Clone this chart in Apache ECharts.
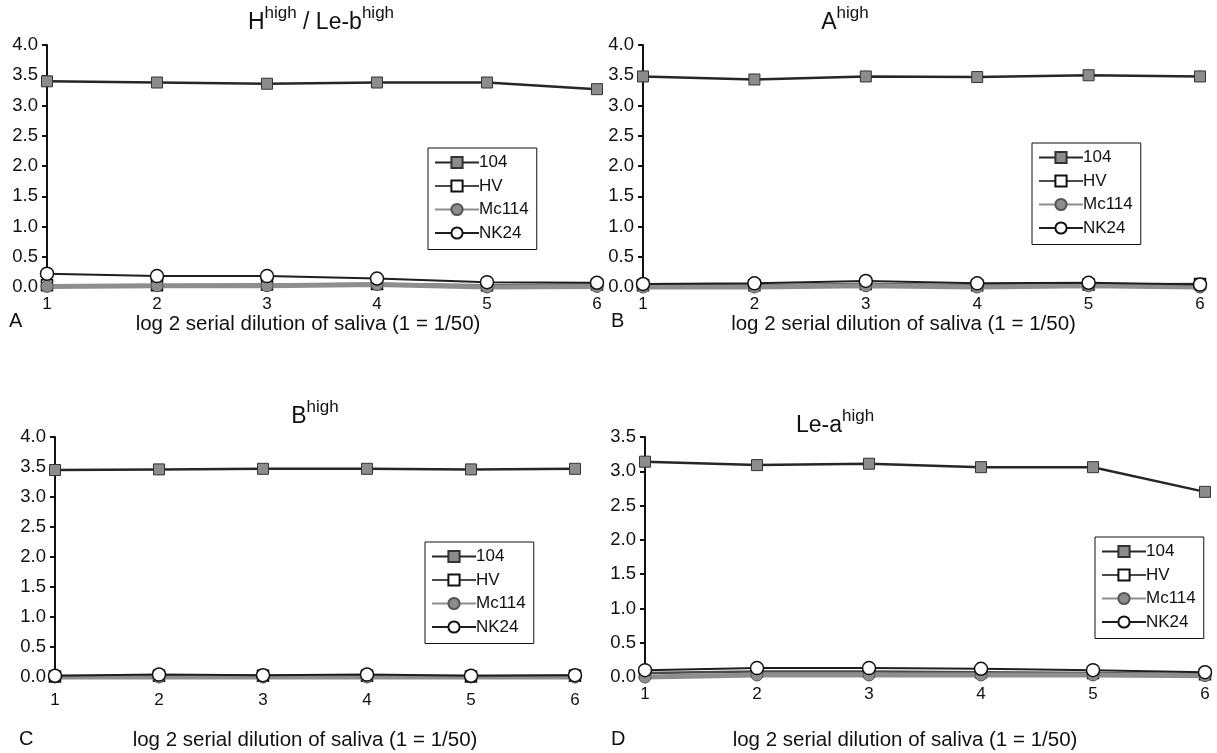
<!DOCTYPE html>
<html>
<head>
<meta charset="utf-8">
<script src="https://cdn.jsdelivr.net/npm/echarts@6/dist/echarts.min.js"></script>
<style>html,body{margin:0;padding:0;background:#fff}#c{width:1217px;height:753px}</style>
</head>
<body>
<div id="c"></div>
<script>
// ---- data ----
const xValues = [1, 2, 3, 4, 5, 6];
const seriesNames = ['104', 'HV', 'Mc114', 'NK24'];
const panelTitles = [['H', 'high', ' / Le-b', 'high'], ['A', 'high'], ['B', 'high'], ['Le-a', 'high']];
const panelLetters = ['A', 'B', 'C', 'D'];
const xAxisTitle = 'log 2 serial dilution of saliva (1 = 1/50)';
const yMaxes = [4.0, 4.0, 4.0, 3.5];

// Panel A: H(high) / Le-b(high)
const a104   = [3.40, 3.38, 3.36, 3.38, 3.38, 3.27];
const aHV    = [0.03, 0.03, 0.04, 0.05, 0.03, 0.04];
const aMc114 = [0.01, 0.02, 0.02, 0.04, 0.00, 0.01];
const aNK24  = [0.22, 0.18, 0.18, 0.14, 0.08, 0.07];
// Panel B: A(high)
const b104   = [3.48, 3.43, 3.48, 3.47, 3.50, 3.48];
const bHV    = [0.03, 0.03, 0.05, 0.03, 0.04, 0.05];
const bMc114 = [0.00, 0.00, 0.02, 0.00, 0.02, 0.00];
const bNK24  = [0.05, 0.06, 0.10, 0.06, 0.07, 0.04];
// Panel C: B(high)
const c104   = [3.45, 3.46, 3.47, 3.47, 3.46, 3.47];
const cHV    = [0.01, 0.02, 0.02, 0.02, 0.01, 0.02];
const cMc114 = [0.00, 0.00, 0.00, 0.00, 0.00, 0.00];
const cNK24  = [0.02, 0.04, 0.03, 0.04, 0.02, 0.03];
// Panel D: Le-a(high)
const d104   = [3.14, 3.09, 3.11, 3.06, 3.06, 2.70];
const dHV    = [0.06, 0.08, 0.08, 0.07, 0.06, 0.04];
const dMc114 = [0.00, 0.03, 0.03, 0.03, 0.03, 0.02];
const dNK24  = [0.10, 0.13, 0.13, 0.12, 0.10, 0.07];

const panelData = [
  [a104, aHV, aMc114, aNK24],
  [b104, bHV, bMc114, bNK24],
  [c104, cHV, cMc114, cNK24],
  [d104, dHV, dMc114, dNK24]
];

// ---- layout / style ----
const FONT = 'Liberation Sans, Arial, Helvetica, sans-serif';
const grids = [
  {left: 47,  top: 45,  width: 550, height: 242},
  {left: 643, top: 45,  width: 557, height: 242},
  {left: 55,  top: 437, width: 520, height: 240},
  {left: 645, top: 437, width: 560, height: 240}
];
const legendPos = [
  {left: 428, top: 148},
  {left: 1032, top: 143},
  {left: 425, top: 542},
  {left: 1095, top: 537}
];
const titlePos = [
  {x: 316, y: 0}, {x: 840, y: 0}, {x: 310, y: 394}, {x: 830, y: 403}
];
const labelMargins = [9, 9, 15, 9];
const nameGaps = [26, 26, 53, 53];
const nameShift = [28, 36, 20, 40];
const letterPos = [[9, 311], [611, 311], [19, 729], [611, 729]];

const styles = [
  {symbol: 'rect',   size: 11, fill: '#8c8c8c', border: '#333', bw: 1,   line: '#262626', lw: 2.5},
  {symbol: 'rect',   size: 11, fill: '#ffffff', border: '#111', bw: 1.5, line: '#4a4a4a', lw: 2.5},
  {symbol: 'circle', size: 12, fill: '#8c8c8c', border: '#555', bw: 1,   line: '#8e8e8e', lw: 5},
  {symbol: 'circle', size: 13, fill: '#ffffff', border: '#111', bw: 1.5, line: '#1e1e1e', lw: 2}
];

const grid = [], xAxis = [], yAxis = [], series = [], legend = [], title = [], graphic = [];
panelData.forEach((pd, g) => {
  grid.push(Object.assign({}, grids[g]));
  xAxis.push({
    type: 'value', gridIndex: g, min: 1, max: 6, interval: 1,
    axisLine: {show: false}, axisTick: {show: false}, splitLine: {show: false},
    axisLabel: {color: '#111', fontSize: 17, fontFamily: FONT, margin: labelMargins[g]},
    name: xAxisTitle, nameLocation: 'middle', nameGap: nameGaps[g],
    nameTextStyle: {color: '#111', fontSize: 20.5, fontFamily: FONT, padding: [0, nameShift[g], 0, 0]}
  });
  yAxis.push({
    type: 'value', gridIndex: g, min: 0, max: yMaxes[g], interval: 0.5,
    axisLine: {show: true, lineStyle: {color: '#111', width: 2}},
    axisTick: {show: true, length: 5, lineStyle: {color: '#111', width: 2}},
    splitLine: {show: false},
    axisLabel: {color: '#111', fontSize: 18.5, fontFamily: FONT, margin: 9,
      formatter: v => v.toFixed(1)}
  });
  pd.forEach((vals, s) => {
    const st = styles[s];
    series.push({
      type: 'line', name: seriesNames[s], xAxisIndex: g, yAxisIndex: g,
      data: xValues.map((x, i) => [x, vals[i]]),
      symbol: st.symbol, symbolSize: st.size, showSymbol: true, clip: false,
      lineStyle: {color: st.line, width: st.lw},
      itemStyle: {color: st.fill, borderColor: st.border, borderWidth: st.bw},
      emphasis: {disabled: true}, animation: false, z: 2 + s
    });
  });
  legend.push({
    data: seriesNames, orient: 'vertical', left: legendPos[g].left, top: legendPos[g].top,
    itemWidth: 44, itemHeight: 14, itemGap: 6.5,
    padding: [6, 8, 8, 6],
    borderColor: '#111', borderWidth: 1, backgroundColor: '#fff',
    textStyle: {color: '#111', fontSize: 17, fontFamily: FONT, padding: [0, 0, 0, -5]},
    selectedMode: false
  });
  const tp = panelTitles[g];
  let txt = '';
  tp.forEach((t, i) => { txt += (i % 2 === 0 ? '{m|' : '{s|') + t + '}'; });
  title.push({
    text: txt, left: titlePos[g].x, top: titlePos[g].y, textAlign: 'center',
    textStyle: {
      fontWeight: 'normal',
      rich: {
        m: {fontSize: 23, fontWeight: 'normal', fontFamily: FONT, color: '#111', lineHeight: 29, verticalAlign: 'bottom'},
        s: {fontSize: 17, fontWeight: 'normal', fontFamily: FONT, color: '#111', lineHeight: 17, verticalAlign: 'top'}
      }
    }
  });
  graphic.push({
    type: 'text', left: letterPos[g][0], top: letterPos[g][1],
    style: {text: panelLetters[g], fontSize: 20, fontFamily: FONT, fill: '#111'}
  });
});

const chart = echarts.init(document.getElementById('c'), null, {renderer: 'canvas'});
chart.setOption({
  backgroundColor: '#fff', animation: false,
  grid, xAxis, yAxis, series, legend, title, graphic
});
</script>
</body>
</html>
